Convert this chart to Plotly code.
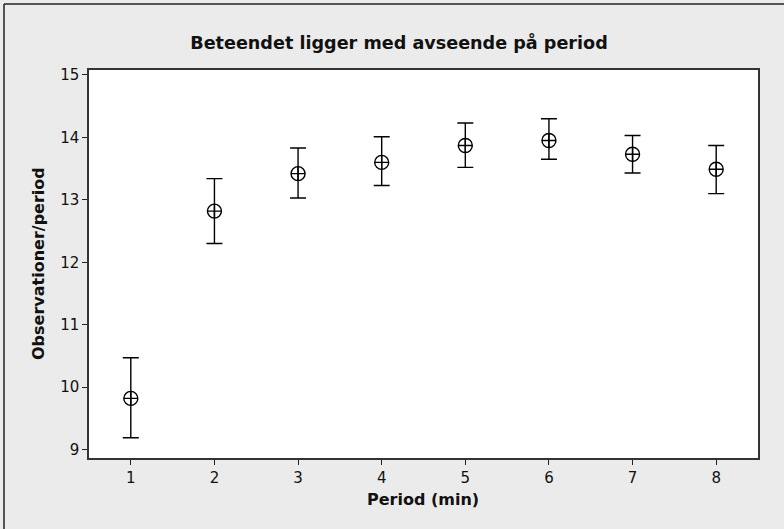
import plotly.graph_objects as go

periods = [1, 2, 3, 4, 5, 6, 7, 8]
means = [9.82, 12.82, 13.42, 13.60, 13.87, 13.95, 13.73, 13.49]
upper = [10.47, 13.34, 13.83, 14.01, 14.23, 14.30, 14.03, 13.87]
lower = [9.19, 12.30, 13.03, 13.23, 13.52, 13.65, 13.43, 13.10]
x_ticks = [1, 2, 3, 4, 5, 6, 7, 8]
y_ticks = [9, 10, 11, 12, 13, 14, 15]

err_plus = [u - m for u, m in zip(upper, means)]
err_minus = [m - l for m, l in zip(means, lower)]

FONT = "DejaVu Sans, Verdana, sans-serif"

fig = go.Figure()
fig.add_trace(go.Scatter(
    x=periods, y=means, mode="markers",
    marker=dict(symbol="circle-cross-open", size=14, color="black",
                line=dict(color="black", width=1.4)),
    error_y=dict(type="data", symmetric=False, array=err_plus,
                 arrayminus=err_minus, color="black", thickness=1.4, width=8),
    showlegend=False, hoverinfo="skip",
))

L, R, T, B = 89, 26, 70, 71
W, H = 784, 529
pw, ph = W - L - R, H - T - B

def px(x):
    return (x - L) / pw

def py(y):
    return (H - B - y) / ph

fig.update_layout(
    width=W, height=H,
    margin=dict(l=L, r=R, t=T, b=B, pad=0),
    paper_bgcolor="#ebebeb",
    plot_bgcolor="white",
    font=dict(family=FONT, size=15, color="#111111"),
    title=dict(text="<b>Beteendet ligger med avseende på period</b>",
               xref="container", yref="container",
               x=399 / W, y=1 - 43 / H, xanchor="center", yanchor="middle",
               font=dict(family=FONT, size=17.6, color="#111111")),
    xaxis=dict(range=[0.5, 8.5], tickvals=x_ticks, ticktext=[str(v) for v in x_ticks],
               showgrid=False, zeroline=False, ticks="outside", ticklen=5,
               tickwidth=1.2, tickcolor="#222222", showline=True, linecolor="#333333",
               linewidth=1.5, mirror=True, tickfont=dict(size=15)),
    yaxis=dict(range=[8.865, 15.08], tickvals=y_ticks, ticktext=[str(v) for v in y_ticks],
               showgrid=False, zeroline=False, ticks="outside", ticklen=5,
               tickwidth=1.2, tickcolor="#222222", showline=True, linecolor="#333333",
               linewidth=1.5, mirror=True, tickfont=dict(size=15)),
    annotations=[
        dict(text="<b>Period (min)</b>", xref="paper", yref="paper",
             x=px(423), y=py(499), xanchor="center", yanchor="middle",
             showarrow=False, font=dict(family=FONT, size=16, color="#111111")),
        dict(text="<b>Observationer/period</b>", xref="paper", yref="paper",
             x=px(38), y=py(264), xanchor="center", yanchor="middle", textangle=-90,
             showarrow=False, font=dict(family=FONT, size=16, color="#111111")),
    ],
    shapes=[
        dict(type="line", xref="paper", yref="paper", x0=px(4), x1=px(W + 5),
             y0=py(4), y1=py(4), line=dict(color="#222222", width=1.5)),
        dict(type="line", xref="paper", yref="paper", x0=px(4), x1=px(4),
             y0=py(4), y1=py(H + 5), line=dict(color="#222222", width=1.5)),
    ],
)

fig.write_html("out.html", config={"displayModeBar": False},
               post_script="document.body.style.margin='0';document.body.style.overflow='hidden';")
